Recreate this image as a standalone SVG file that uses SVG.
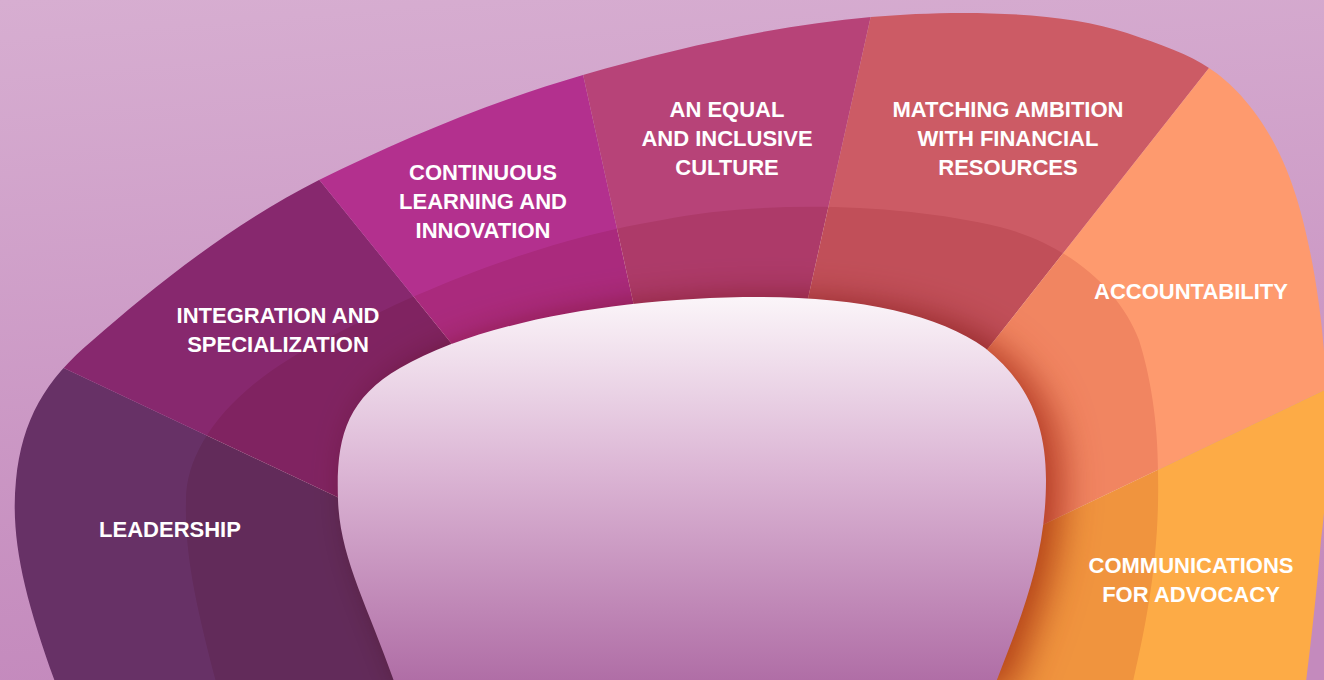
<svg xmlns="http://www.w3.org/2000/svg" width="1324" height="680" viewBox="0 0 1324 680">
<defs>
<linearGradient id="bg" x1="0" y1="0" x2="0.15" y2="1">
<stop offset="0" stop-color="#d7aed1"/>
<stop offset="1" stop-color="#c48abd"/>
</linearGradient>
<linearGradient id="blobg" x1="0" y1="297" x2="0" y2="680" gradientUnits="userSpaceOnUse">
<stop offset="0" stop-color="#fbf5f9"/>
<stop offset="0.45" stop-color="#dcb6d5"/>
<stop offset="1" stop-color="#b06ea6"/>
</linearGradient>
<clipPath id="arch">
<path d="M58,690 C25,600 10,540 16,480 C22,420 45,380 93,340 C150,290 230,225 319,180 C400,140 490,102 583,75 C680,47 780,25 871,17 C950,10 1060,10 1127,33 C1160,44 1190,55 1209,68 C1240,88 1275,130 1295,193 C1312,245 1326,330 1326,400 C1330,450 1326,500 1321,540 C1316,600 1310,650 1305,690 Z"/>
</clipPath>
<filter id="blur" x="-20%" y="-20%" width="140%" height="140%">
<feGaussianBlur stdDeviation="18"/>
</filter>
<style>
.lbl{font-family:"Liberation Sans",Arial,sans-serif;font-weight:bold;font-size:22px;fill:#ffffff;text-anchor:middle}
.mul{mix-blend-mode:multiply}
</style>
</defs>
<rect width="1324" height="680" fill="url(#bg)"/>
<g clip-path="url(#arch)" style="isolation:isolate">
<g id="leadership"><polygon points="-40,319 350,503 700,520 700,700 -40,700" fill="#673166"/></g>
<g id="integration"><polygon points="254,99 460,354 700,520 350,503 -40,319" fill="#87286e"/></g>
<g id="continuous"><polygon points="560,-30 636,315 700,520 460,354 254,99" fill="#b3308e"/></g>
<g id="equal"><polygon points="880,-25 805,312 700,520 636,315 560,-30" fill="#b74378"/></g>
<g id="matching"><polygon points="1250,16 975,365 700,520 805,312 880,-25" fill="#cc5b65"/></g>
<g id="accountability"><polygon points="1250,16 1400,16 1400,354 1030,531 700,520 975,365" fill="#fe9a6e"/></g>
<g id="communications"><polygon points="1400,354 1400,700 700,700 700,520 1030,531" fill="#fdab46"/></g>
<path id="band" class="mul" d="M218,690 C200,620 184,560 186,500 C186,445 235,380 338,333 C420,290 540,240 662,220 C760,200 900,203 1000,227 C1070,245 1120,290 1139,340 C1150,375 1158,420 1158,473 C1160,560 1145,630 1131,690 Z" fill="#f2dde0"/>
<path id="blobshadow" class="mul" transform="translate(16,4)" filter="url(#blur)" opacity="0.75" d="M397,690 C370,610 340,560 338,500 C336,440 345,400 400,368 C480,322 620,297 760,297 C860,297 940,315 985,348 C1025,380 1046,420 1046,480 C1046,560 1020,620 993,690 Z" fill="#a8402a"/>
<path id="blob" d="M397,690 C370,610 340,560 338,500 C336,440 345,400 400,368 C480,322 620,297 760,297 C860,297 940,315 985,348 C1025,380 1046,420 1046,480 C1046,560 1020,620 993,690 Z" fill="url(#blobg)"/>
</g>
<g id="labels">
<text class="lbl" x="483" y="180">CONTINUOUS</text>
<text class="lbl" x="483" y="209">LEARNING AND</text>
<text class="lbl" x="483" y="238">INNOVATION</text>
<text class="lbl" x="278" y="323">INTEGRATION AND</text>
<text class="lbl" x="278" y="352">SPECIALIZATION</text>
<text class="lbl" x="170" y="537">LEADERSHIP</text>
<text class="lbl" x="727" y="117">AN EQUAL</text>
<text class="lbl" x="727" y="146">AND INCLUSIVE</text>
<text class="lbl" x="727" y="175">CULTURE</text>
<text class="lbl" x="1008" y="117">MATCHING AMBITION</text>
<text class="lbl" x="1008" y="146">WITH FINANCIAL</text>
<text class="lbl" x="1008" y="175">RESOURCES</text>
<text class="lbl" x="1191" y="299">ACCOUNTABILITY</text>
<text class="lbl" x="1191" y="573">COMMUNICATIONS</text>
<text class="lbl" x="1191" y="602">FOR ADVOCACY</text>
</g>
<g id="connectors"/>
</svg>
